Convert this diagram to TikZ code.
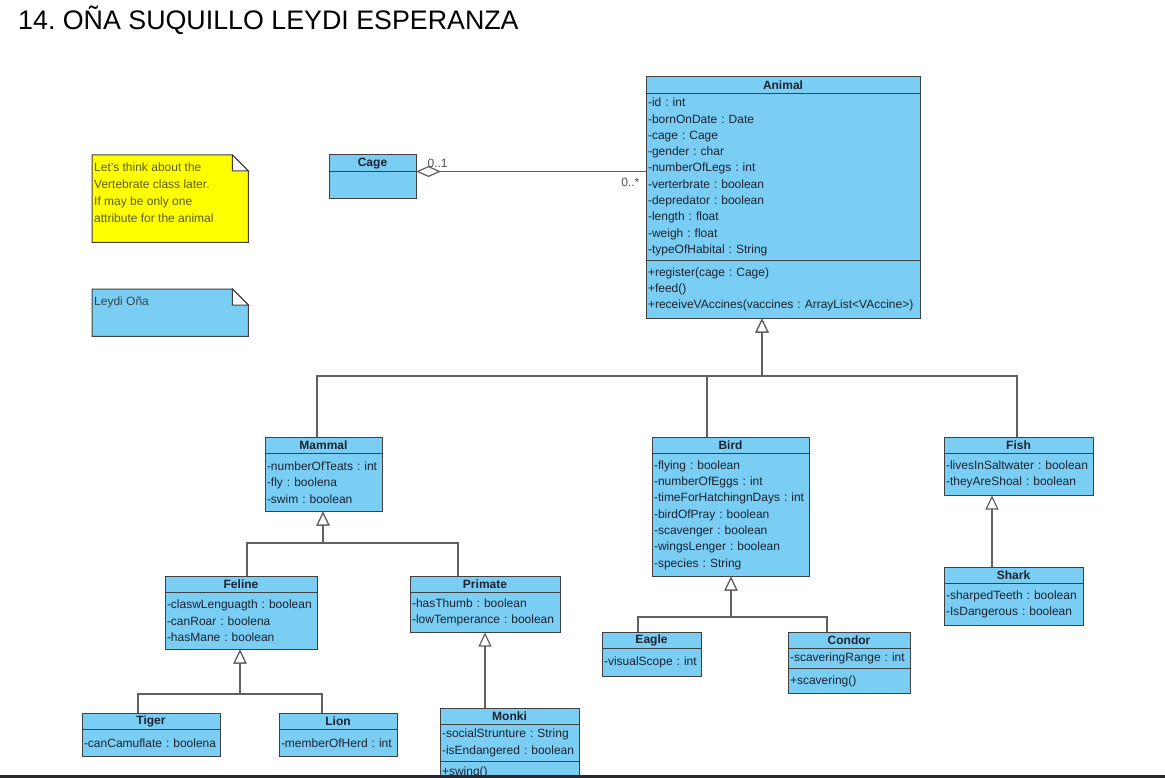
\documentclass[tikz,border=0pt]{standalone}
\usepackage{fontspec}
\setmainfont{Liberation Sans}
\frenchspacing
\usetikzlibrary{
	positioning		% below=0pt of x placement of class compartments
	, arrows.meta		% open triangle and diamond tips
	, backgrounds		% note outlines behind their text
}
\definecolor{classblue}{RGB}{122,206,244}
\definecolor{boxline}{RGB}{64,64,64}
\definecolor{connline}{RGB}{96,96,96}
\definecolor{classtext}{RGB}{28,34,48}
\definecolor{noteyellow}{RGB}{255,255,0}
\definecolor{notetext}{RGB}{90,90,40}
\definecolor{authortext}{RGB}{60,66,76}
\definecolor{multtext}{RGB}{80,80,80}
\definecolor{screenbar}{RGB}{42,38,48}
\newcommand{\umlfont}{\fontsize{12}{16.3}\selectfont}

\begin{document}
\begin{tikzpicture}[
			x=1pt, y=-1pt,
			classhead/.style={
				draw=boxline, fill=classblue, line width=1pt,
				text=classtext, font=\umlfont\bfseries,
				anchor=north west,
				minimum height=16.5pt,
				inner sep=0pt, outer sep=0pt
			},
			classbody/.style={
				draw=boxline, fill=classblue, line width=1pt,
				text=classtext, font=\umlfont,
				align=left,
				inner xsep=2pt, inner ysep=0pt, outer sep=0pt
			},
			note/.style={
				anchor=north west,
				inner xsep=2pt, inner ysep=8pt,
				text=notetext, font=\fontsize{12}{17}\selectfont
			},
			conn/.style={
				draw=connline, line width=1.2pt
			},
			gen/.style={
				conn,
				-{Triangle[length=14pt, width=13pt, fill=white]}
			},
			agg/.style={
				conn,
				{Diamond[length=25pt, width=11pt, fill=white]}-
			},
			mult/.style={
				text=multtext, font=\fontsize{12}{14}\selectfont,
				inner sep=1pt
			}]

			\useasboundingbox (0,0) rectangle (1165,778);
			\clip (0,0) rectangle (1165,778);

			\node [anchor=base west, inner sep=0pt, font=\fontsize{26.8}{30}\selectfont] (title) at (18,30) {14. OÑA SUQUILLO LEYDI ESPERANZA};

			%%% Notes
			\node [note] (todo) at (92,155) {\parbox[c][71pt][t]{152pt}{Let's think about the\\Vertebrate class later.\\If may be only one\\attribute for the animal}};
			\node [note, text=authortext] (author) at (92,289) {\parbox[c][31pt][t]{152pt}{Leydi Oña}};

			\begin{scope}[on background layer]
				\fill [white] (0,0) rectangle (1165,778);
				\foreach \n/\c in {todo/noteyellow, author/classblue} {
					% outline with the folded corner
					\filldraw [draw=boxline, fill=\c, line width=1pt] (\n.north west) -- ([xshift=-16pt]\n.north east) -- ([yshift=-16pt]\n.north east) -- (\n.south east) -- (\n.south west) -- cycle;
					\filldraw [draw=boxline, fill=white, line width=1pt] ([xshift=-16pt]\n.north east) -- ([xshift=-16pt, yshift=-16pt]\n.north east) -- ([yshift=-16pt]\n.north east) -- cycle;
				};
			\end{scope}

			%%% Classes
			\node [classhead, minimum width=274pt] (animal) at (646,77) {Animal};
			\node [classbody, text width=270pt, minimum height=167pt, below=0pt of animal] (animal-a) {-id : int\\-bornOnDate : Date\\-cage : Cage\\-gender : char\\-numberOfLegs : int\\-verterbrate : boolean\\-depredator : boolean\\-length : float\\-weigh : float\\-typeOfHabital : String};
			\node [classbody, text width=270pt, minimum height=58pt, below=0pt of animal-a] (animal-o) {+register(cage : Cage)\\+feed()\\+receiveVAccines(vaccines : ArrayList<VAccine>)};

			\node [classhead, minimum width=87pt] (cage) at (329,155) {Cage};
			\node [classbody, text width=83pt, minimum height=27pt, below=0pt of cage] (cage-a) {};

			\node [classhead, minimum width=117pt] (mammal) at (265,437) {Mammal};
			\node [classbody, text width=113pt, minimum height=58pt, below=0pt of mammal] (mammal-a) {-numberOfTeats : int\\-fly : boolena\\-swim : boolean};

			\node [classhead, minimum width=152pt] (feline) at (165,576) {Feline};
			\node [classbody, text width=148pt, minimum height=57pt, below=0pt of feline] (feline-a) {-claswLenguagth : boolean\\-canRoar : boolena\\-hasMane : boolean};

			\node [classhead, minimum width=150pt] (primate) at (410,576) {Primate};
			\node [classbody, text width=146pt, minimum height=40pt, below=0pt of primate] (primate-a) {-hasThumb : boolean\\-lowTemperance : boolean};

			\node [classhead, minimum width=138pt] (tiger) at (82,713) {Tiger};
			\node [classbody, text width=134pt, minimum height=27pt, below=0pt of tiger] (tiger-a) {-canCamuflate : boolena};

			\node [classhead, minimum width=118pt] (lion) at (279,713) {Lion};
			\node [classbody, text width=114pt, minimum height=27pt, below=0pt of lion] (lion-a) {-memberOfHerd : int};

			\node [classhead, minimum width=139pt] (monki) at (440,708) {Monki};
			\node [classbody, text width=135pt, minimum height=37pt, below=0pt of monki] (monki-a) {-socialStrunture : String\\-isEndangered : boolean};
			\node [classbody, text width=135pt, minimum height=22pt, below=0pt of monki-a] (monki-o) {+swing()};

			\node [classhead, minimum width=157pt] (bird) at (652,437) {Bird};
			\node [classbody, text width=153pt, minimum height=123pt, below=0pt of bird] (bird-a) {-flying : boolean\\-numberOfEggs : int\\-timeForHatchingnDays : int\\-birdOfPray : boolean\\-scavenger : boolean\\-wingsLenger : boolean\\-species : String};

			\node [classhead, minimum width=99pt] (eagle) at (602,632) {Eagle};
			\node [classbody, text width=95pt, minimum height=28pt, below=0pt of eagle] (eagle-a) {-visualScope : int};

			\node [classhead, minimum width=122pt] (condor) at (788,632) {Condor};
			\node [classbody, text width=118pt, minimum height=20pt, below=0pt of condor] (condor-a) {-scaveringRange : int};
			\node [classbody, text width=118pt, minimum height=25pt, below=0pt of condor-a] (condor-o) {+scavering()};

			\node [classhead, minimum width=149pt] (fish) at (944,437) {Fish};
			\node [classbody, text width=145pt, minimum height=42pt, below=0pt of fish] (fish-a) {-livesInSaltwater : boolean\\-theyAreShoal : boolean};

			\node [classhead, minimum width=139pt] (shark) at (944,567) {Shark};
			\node [classbody, text width=135pt, minimum height=42pt, below=0pt of shark] (shark-a) {-sharpedTeeth : boolean\\-IsDangerous : boolean};

			%%% Cage aggregated by Animal
			\draw [agg] (cage.south east) -- (cage.south east -| animal-a.west)
				node [mult, pos=0, anchor=south west, xshift=10pt, yshift=2.5pt] {0..1}
				node [mult, pos=1, anchor=north east, xshift=-5pt, yshift=-5.5pt] {0..*};

			%%% Generalizations: child, its x, parent, tip x, bus y
			\foreach \c/\x/\p/\tx/\y in {mammal/317/animal-o/762/376, bird/707/animal-o/762/376, fish/1017/animal-o/762/376, feline/247/mammal-a/323/543, primate/458/mammal-a/323/543, tiger/138/feline-a/240/694, lion/322/feline-a/240/694, eagle/638/bird-a/731/617, condor/827/bird-a/731/617} {
				\draw [gen] (\x,\y |- \c.north) -- (\x,\y) -- (\tx,\y) -- (\tx,\y |- \p.south);
			};
			\draw [gen] (monki.north -| primate-a.south) -- (primate-a.south);
			\draw [gen] (992,0 |- shark.north) -- (992,0 |- fish-a.south);

			\fill [screenbar] (0,775) rectangle (1165,778);

		\end{tikzpicture}
\end{document}
